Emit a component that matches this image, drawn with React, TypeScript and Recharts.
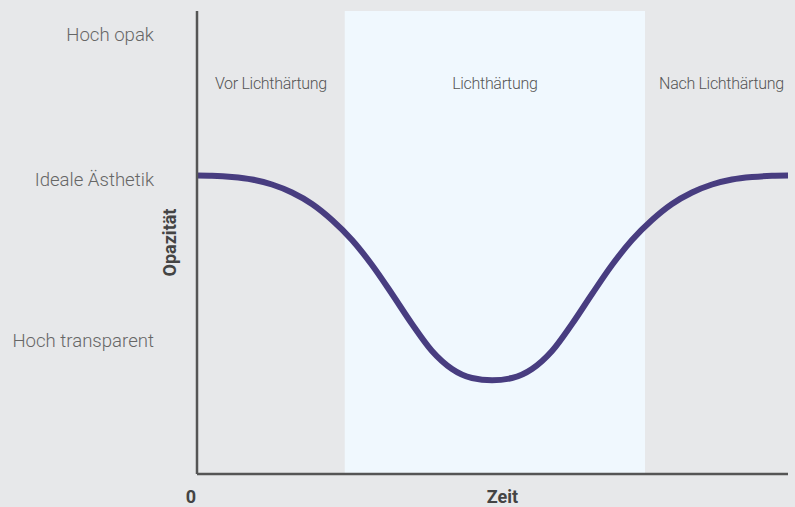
import React from 'react';
import { LineChart, Line, XAxis, YAxis, ReferenceArea } from 'recharts';

const timeValues = [0, 2.54, 5.92, 9.31, 12.69, 16.07, 19.46, 22.84, 26.23, 29.61, 33.0, 36.38, 39.76, 43.15, 46.53, 49.92, 53.3, 56.68, 60.07, 63.45, 66.84, 70.22, 73.6, 76.99, 80.37, 83.76, 87.14, 90.52, 93.91, 97.29, 100];
const opacityValues = [64.47, 64.41, 64.15, 63.61, 62.53, 60.8, 58.32, 54.86, 50.54, 45.14, 38.88, 32.4, 26.57, 22.68, 20.73, 20.24, 20.73, 22.68, 26.57, 32.4, 38.88, 45.14, 50.54, 54.86, 58.32, 60.8, 62.53, 63.61, 64.15, 64.41, 64.47];

const opacityLevels = [28.9, 63.6, 95.0];
const opacityLabels = ['Hoch transparent', 'Ideale Ästhetik', 'Hoch opak'];

const phaseBounds = [0, 25.0, 75.8, 100];
const phaseNames = ['Vor Lichthärtung', 'Lichthärtung', 'Nach Lichthärtung'];

const timeTicks = [0];

const FONT = 'Roboto, "Noto Sans", sans-serif';

export default function App() {
  const data = timeValues.map((t, i) => ({ t, o: opacityValues[i] }));
  return (
    <div style={{ position: 'absolute', left: 0, top: 0, width: 795, height: 507, background: '#e7e8ea', fontFamily: FONT }}>
      <LineChart width={795} height={507} data={data} margin={{ top: 11, right: 7, bottom: 0, left: 0 }}>
        {phaseNames.map((name, i) => (
          <ReferenceArea
            key={name}
            x1={phaseBounds[i]}
            x2={phaseBounds[i + 1]}
            fill={i === 1 ? '#f0f8fe' : 'none'}
            fillOpacity={1}
            stroke="none"
            label={{ value: name, position: 'insideTop', offset: 67, fill: '#555', fontSize: 16, fontWeight: 300, fontFamily: FONT, letterSpacing: -0.3, dx: i === 2 ? 5 : 0 }}
          />
        ))}
        <XAxis
          type="number"
          dataKey="t"
          domain={[0, 100]}
          ticks={timeTicks}
          interval={0}
          height={33}
          axisLine={{ stroke: '#555', strokeWidth: 2.5 }}
          tickLine={false}
          tickSize={0}
          tickMargin={16}
          tick={{ fill: '#444', fontSize: 18, fontWeight: 700, fontFamily: FONT, dx: -6 }}
          label={{ value: 'Zeit', position: 'insideBottom', offset: 4, dx: 10, fill: '#444', fontSize: 18, fontWeight: 700, fontFamily: FONT }}
        />
        <YAxis
          type="number"
          domain={[0, 100]}
          ticks={opacityLevels}
          interval={0}
          tickFormatter={(v: number) => opacityLabels[opacityLevels.indexOf(v)]}
          width={197}
          axisLine={{ stroke: '#555', strokeWidth: 2.5 }}
          tickLine={false}
          tickSize={0}
          tickMargin={43}
          tick={{ fill: '#666', fontSize: 18.6, fontWeight: 300, fontFamily: FONT }}
          label={{ value: 'Opazität', angle: -90, position: 'center', dx: 71.5, fill: '#444', fontSize: 18, fontWeight: 700, fontFamily: FONT }}
        />
        <Line type="monotone" dataKey="o" stroke="#483d80" strokeWidth={6} dot={false} isAnimationActive={false} />
      </LineChart>
    </div>
  );
}
